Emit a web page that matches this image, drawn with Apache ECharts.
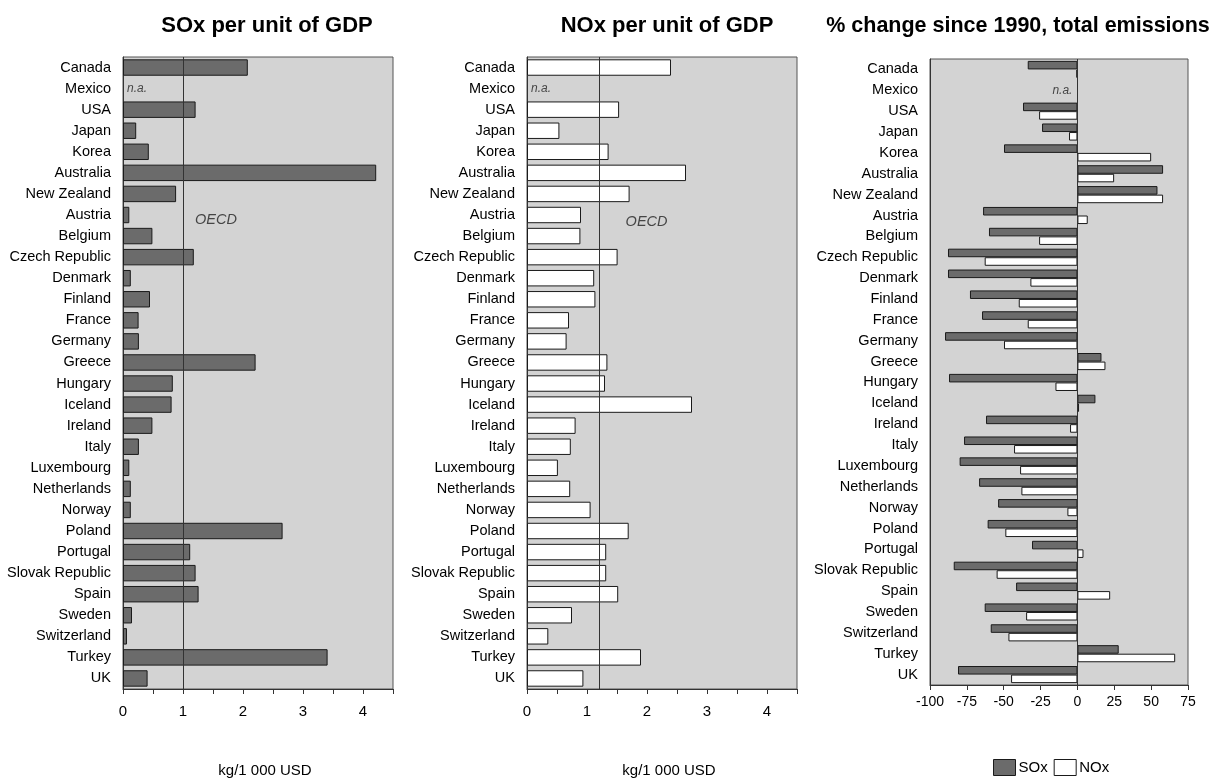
<!DOCTYPE html>
<html><head><meta charset="utf-8">
<script src="https://cdn.jsdelivr.net/npm/echarts@6/dist/echarts.min.js"></script>
<style>html,body{margin:0;padding:0;background:#fff}#c{width:1211px;height:778px}</style>
</head><body><div id="c"></div>
<script>
const categories = ['Canada','Mexico','USA','Japan','Korea','Australia','New Zealand','Austria','Belgium','Czech Republic','Denmark','Finland','France','Germany','Greece','Hungary','Iceland','Ireland','Italy','Luxembourg','Netherlands','Norway','Poland','Portugal','Slovak Republic','Spain','Sweden','Switzerland','Turkey','UK'];
const soxGdp = [2.08, null, 1.21, 0.22, 0.43, 4.22, 0.885, 0.105, 0.49, 1.18, 0.13, 0.45, 0.26, 0.265, 2.21, 0.83, 0.81, 0.49, 0.265, 0.105, 0.13, 0.13, 2.66, 1.12, 1.21, 1.26, 0.15, 0.066, 3.41, 0.41];
const noxGdp = [2.40, null, 1.535, 0.54, 1.36, 2.65, 1.71, 0.90, 0.89, 1.51, 1.12, 1.14, 0.70, 0.66, 1.34, 1.30, 2.75, 0.81, 0.73, 0.515, 0.72, 1.06, 1.695, 1.32, 1.32, 1.52, 0.75, 0.355, 1.90, 0.94];
const soxChange = [-33.7, null, -36.9, -24, -49.8, 58.1, 54.3, -64, -60, -87.8, -87.8, -72.9, -64.7, -89.8, 16.3, -87.1, 12.2, -62, -76.9, -79.9, -66.7, -53.8, -60.9, -30.8, -83.9, -41.6, -62.9, -58.8, 28, -81];
const noxChange = [-0.7, null, -26, -5.7, 50, 24.9, 58.1, 7, -26, -62.9, -31.9, -39.8, -33.7, -49.8, 19, -14.9, 1.1, -5, -43, -38.9, -38, -6.8, -48.9, 4.1, -54.8, 22.2, -34.8, -46.8, 66.3, -45];
const oecdSox = 1.0;
const oecdNox = 1.21;
const titles = ['SOx per unit of GDP', 'NOx per unit of GDP', '% change since 1990, total emissions'];
const unitName = 'kg/1 000 USD';
const naCategory = 'Mexico';
const oecdCategory = 'Austria';

const NARROW = "'Liberation Sans Narrow','Arial Narrow','Liberation Sans',Arial,sans-serif";
const BOLD = "'Liberation Sans',Arial,sans-serif";
const BG = '#d3d3d3', DARK = '#6b6b6b', LINE = '#333';
const FS = 14.5;

const chart = echarts.init(document.getElementById('c'), null, {renderer: 'canvas'});

function valAxis(gi, min, max, interval, margin, withName, fs) {
  return {
    type: 'value', gridIndex: gi, min: min, max: max, interval: interval,
    splitLine: {show: false},
    axisLine: {show: true, onZero: false, lineStyle: {color: LINE, width: 1}},
    axisTick: {show: true, length: 5, lineStyle: {color: LINE}},
    axisLabel: {color: '#000', fontFamily: NARROW, fontSize: fs, margin: margin, hideOverlap: false,
      formatter: v => (Math.abs(v - Math.round(v)) < 1e-9 ? String(Math.round(v)) : '')},
    name: withName ? unitName : '', nameLocation: 'middle', nameGap: 74,
    nameTextStyle: {color: '#000', fontFamily: NARROW, fontSize: 15, padding: [0, 0, 0, 14]}
  };
}
function catAxis(gi) {
  return {
    type: 'category', gridIndex: gi, data: categories, inverse: true,
    axisTick: {show: false},
    axisLine: {show: true, onZero: false, lineStyle: {color: LINE, width: 1}},
    axisLabel: {color: '#000', fontFamily: NARROW, fontSize: FS, margin: 12, interval: 0}
  };
}
function vline(v) {
  return {silent: true, symbol: 'none', label: {show: false},
    lineStyle: {color: LINE, width: 1, type: 'solid'}, data: [{xAxis: v}]};
}
function textPoint(xi, yi, value, cat, text, pos, dist, size, offset) {
  return {
    type: 'scatter', xAxisIndex: xi, yAxisIndex: yi, symbolSize: 0, silent: true,
    data: [[value, cat]],
    label: {show: true, formatter: text, position: pos, distance: dist, offset: offset || [0, 0],
      color: '#222', fontFamily: NARROW, fontStyle: 'italic', fontSize: size},
    z: 5
  };
}

const barStyle = (fill) => ({color: fill, borderColor: '#1a1a1a', borderWidth: 1});
const gridBase = {show: true, backgroundColor: BG, borderColor: '#555', borderWidth: 1, containLabel: false, outerBoundsMode: 'none'};

const option = {
  animation: false,
  backgroundColor: '#fff',
  title: [
    {text: titles[0], left: 262, top: 10, textAlign: 'center', textStyle: {fontFamily: BOLD, fontWeight: 'bold', fontSize: 22, color: '#000'}},
    {text: titles[1], left: 662, top: 10, textAlign: 'center', textStyle: {fontFamily: BOLD, fontWeight: 'bold', fontSize: 22, color: '#000'}},
    {text: titles[2], left: 1013, top: 10, textAlign: 'center', textStyle: {fontFamily: BOLD, fontWeight: 'bold', fontSize: 21.5, color: '#000'}}
  ],
  grid: [
    Object.assign({left: 123, top: 57, width: 270, height: 632}, gridBase),
    Object.assign({left: 527, top: 57, width: 270, height: 632}, gridBase),
    Object.assign({left: 930, top: 59, width: 258, height: 626}, gridBase)
  ],
  xAxis: [
    valAxis(0, 0, 4.5, 0.5, 15, true, 15),
    valAxis(1, 0, 4.5, 0.5, 15, true, 15),
    valAxis(2, -100, 75, 25, 10, false, 14)
  ],
  yAxis: [catAxis(0), catAxis(1), catAxis(2)],
  legend: {
    data: ['SOx', 'NOx'], left: 988, top: 754, icon: 'rect', itemWidth: 22, itemHeight: 16, itemGap: 6,
    textStyle: {color: '#000', fontFamily: NARROW, fontSize: 15, padding: [0, 0, 0, -2]},
    itemStyle: {borderColor: '#1a1a1a', borderWidth: 1}
  },
  series: [
    {type: 'bar', name: 'SOx per GDP', xAxisIndex: 0, yAxisIndex: 0, data: soxGdp, barCategoryGap: '22%',
      itemStyle: barStyle(DARK), markLine: vline(oecdSox)},
    textPoint(0, 0, 0, naCategory, 'n.a.', 'right', 4, 12),
    textPoint(0, 0, oecdSox, oecdCategory, 'OECD', 'right', 12, 14.5, [0, 5]),
    {type: 'bar', name: 'NOx per GDP', xAxisIndex: 1, yAxisIndex: 1, data: noxGdp, barCategoryGap: '22%',
      itemStyle: barStyle('#fff'), markLine: vline(oecdNox)},
    textPoint(1, 1, 0, naCategory, 'n.a.', 'right', 4, 12),
    textPoint(1, 1, oecdNox, oecdCategory, 'OECD', 'right', 26, 14.5, [0, 7]),
    {type: 'bar', name: 'SOx', xAxisIndex: 2, yAxisIndex: 2, data: soxChange, barGap: '0%', barCategoryGap: '18%',
      itemStyle: barStyle(DARK), markLine: vline(0)},
    {type: 'bar', name: 'NOx', xAxisIndex: 2, yAxisIndex: 2, data: noxChange, barGap: '0%', barCategoryGap: '18%',
      itemStyle: barStyle('#fff')},
    textPoint(2, 2, 0, naCategory, 'n.a.', 'left', 5, 12)
  ]
};
chart.setOption(option);
</script></body></html>
